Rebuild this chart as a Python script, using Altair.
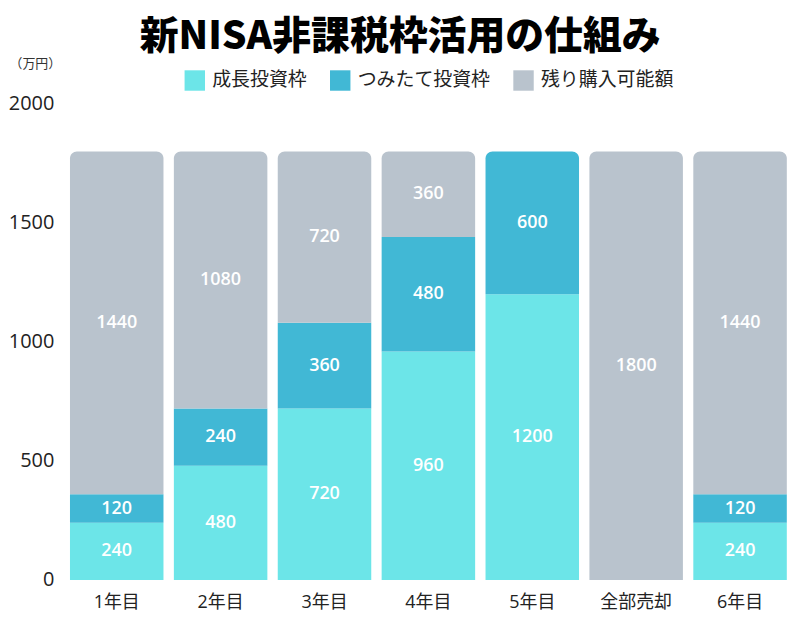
import altair as alt
import pandas as pd

years = ["1年目", "2年目", "3年目", "4年目", "5年目", "全部売却", "6年目"]
series = ["成長投資枠", "つみたて投資枠", "残り購入可能額"]
growth = [240, 480, 720, 960, 1200, 0, 240]
tsumitate = [120, 240, 360, 480, 600, 0, 120]
remaining = [1440, 1080, 720, 360, 0, 1800, 1440]
colors = ["#6CE5E8", "#41B8D5", "#B9C3CD"]

rows = []
for i, yr in enumerate(years):
    vals = [growth[i], tsumitate[i], remaining[i]]
    start = 0
    nz = [k for k, v in enumerate(vals) if v > 0]
    top = nz[-1] if nz else -1
    for k, v in enumerate(vals):
        if v > 0:
            rows.append({"year": yr, "series": series[k], "order": k,
                         "value": v, "start": start, "end": start + v,
                         "mid": start + v / 2, "top": k == top})
        start += v
df = pd.DataFrame(rows)

CJK = "Noto Sans CJK JP"
MIX = "Open Sans, Noto Sans CJK JP"

x = alt.X("year:N", sort=years, title=None,
          scale=alt.Scale(paddingInner=0.1, paddingOuter=0.05),
          axis=alt.Axis(labelAngle=0, labelFontSize=18, labelColor="#222",
                        labelFont=MIX, domain=False, ticks=False, labelPadding=14))
y = alt.Y("start:Q", scale=alt.Scale(domain=[0, 2000]),
          axis=alt.Axis(values=[0, 500, 1000, 1500, 2000], format="d", grid=False, domain=False,
                        ticks=False, labelFontSize=20, labelColor="#222", labelFont="Open Sans",
                        labelPadding=11, title="（万円）", titleAngle=0, titleAlign="left",
                        titleBaseline="middle", titleX=-56, titleY=-40, titleFontSize=13,
                        titleFontWeight="normal", titleColor="#333", titleFont=CJK))
color = alt.Color("series:N", sort=series,
                  scale=alt.Scale(domain=series, range=colors),
                  legend=alt.Legend(title=None, orient="none", legendX=120, legendY=-34,
                                    direction="horizontal",
                                    symbolType="square", symbolSize=420, symbolStrokeWidth=0,
                                    labelFontSize=19, labelFont=CJK, labelColor="#222",
                                    columnPadding=22, labelOffset=7, symbolOpacity=1))

base = alt.Chart(df)
bars_mid = base.transform_filter("!datum.top").mark_bar().encode(
    x=x, y=y, y2="end:Q", color=color)
bars_top = base.transform_filter("datum.top").mark_bar(
    cornerRadiusTopLeft=7, cornerRadiusTopRight=7).encode(
    x=x, y=y, y2="end:Q", color=color)
labels = base.mark_text(color="white", fontSize=18, fontWeight=600, font="Open Sans").encode(
    x=alt.X("year:N", sort=years), y=alt.Y("mid:Q"), text=alt.Text("value:Q"))

chart = alt.layer(bars_mid, bars_top, labels).properties(
    width=730, height=478,
    title=alt.TitleParams("新NISA非課税枠活用の仕組み", fontSize=39, fontWeight=900,
                          font=CJK, color="#000", anchor="middle", frame="bounds", offset=1),
    padding={"left": 0, "top": 9, "right": 0, "bottom": 0},
).configure_view(stroke=None)

chart.save("out.html", embed_options={"renderer": "svg", "actions": False})
